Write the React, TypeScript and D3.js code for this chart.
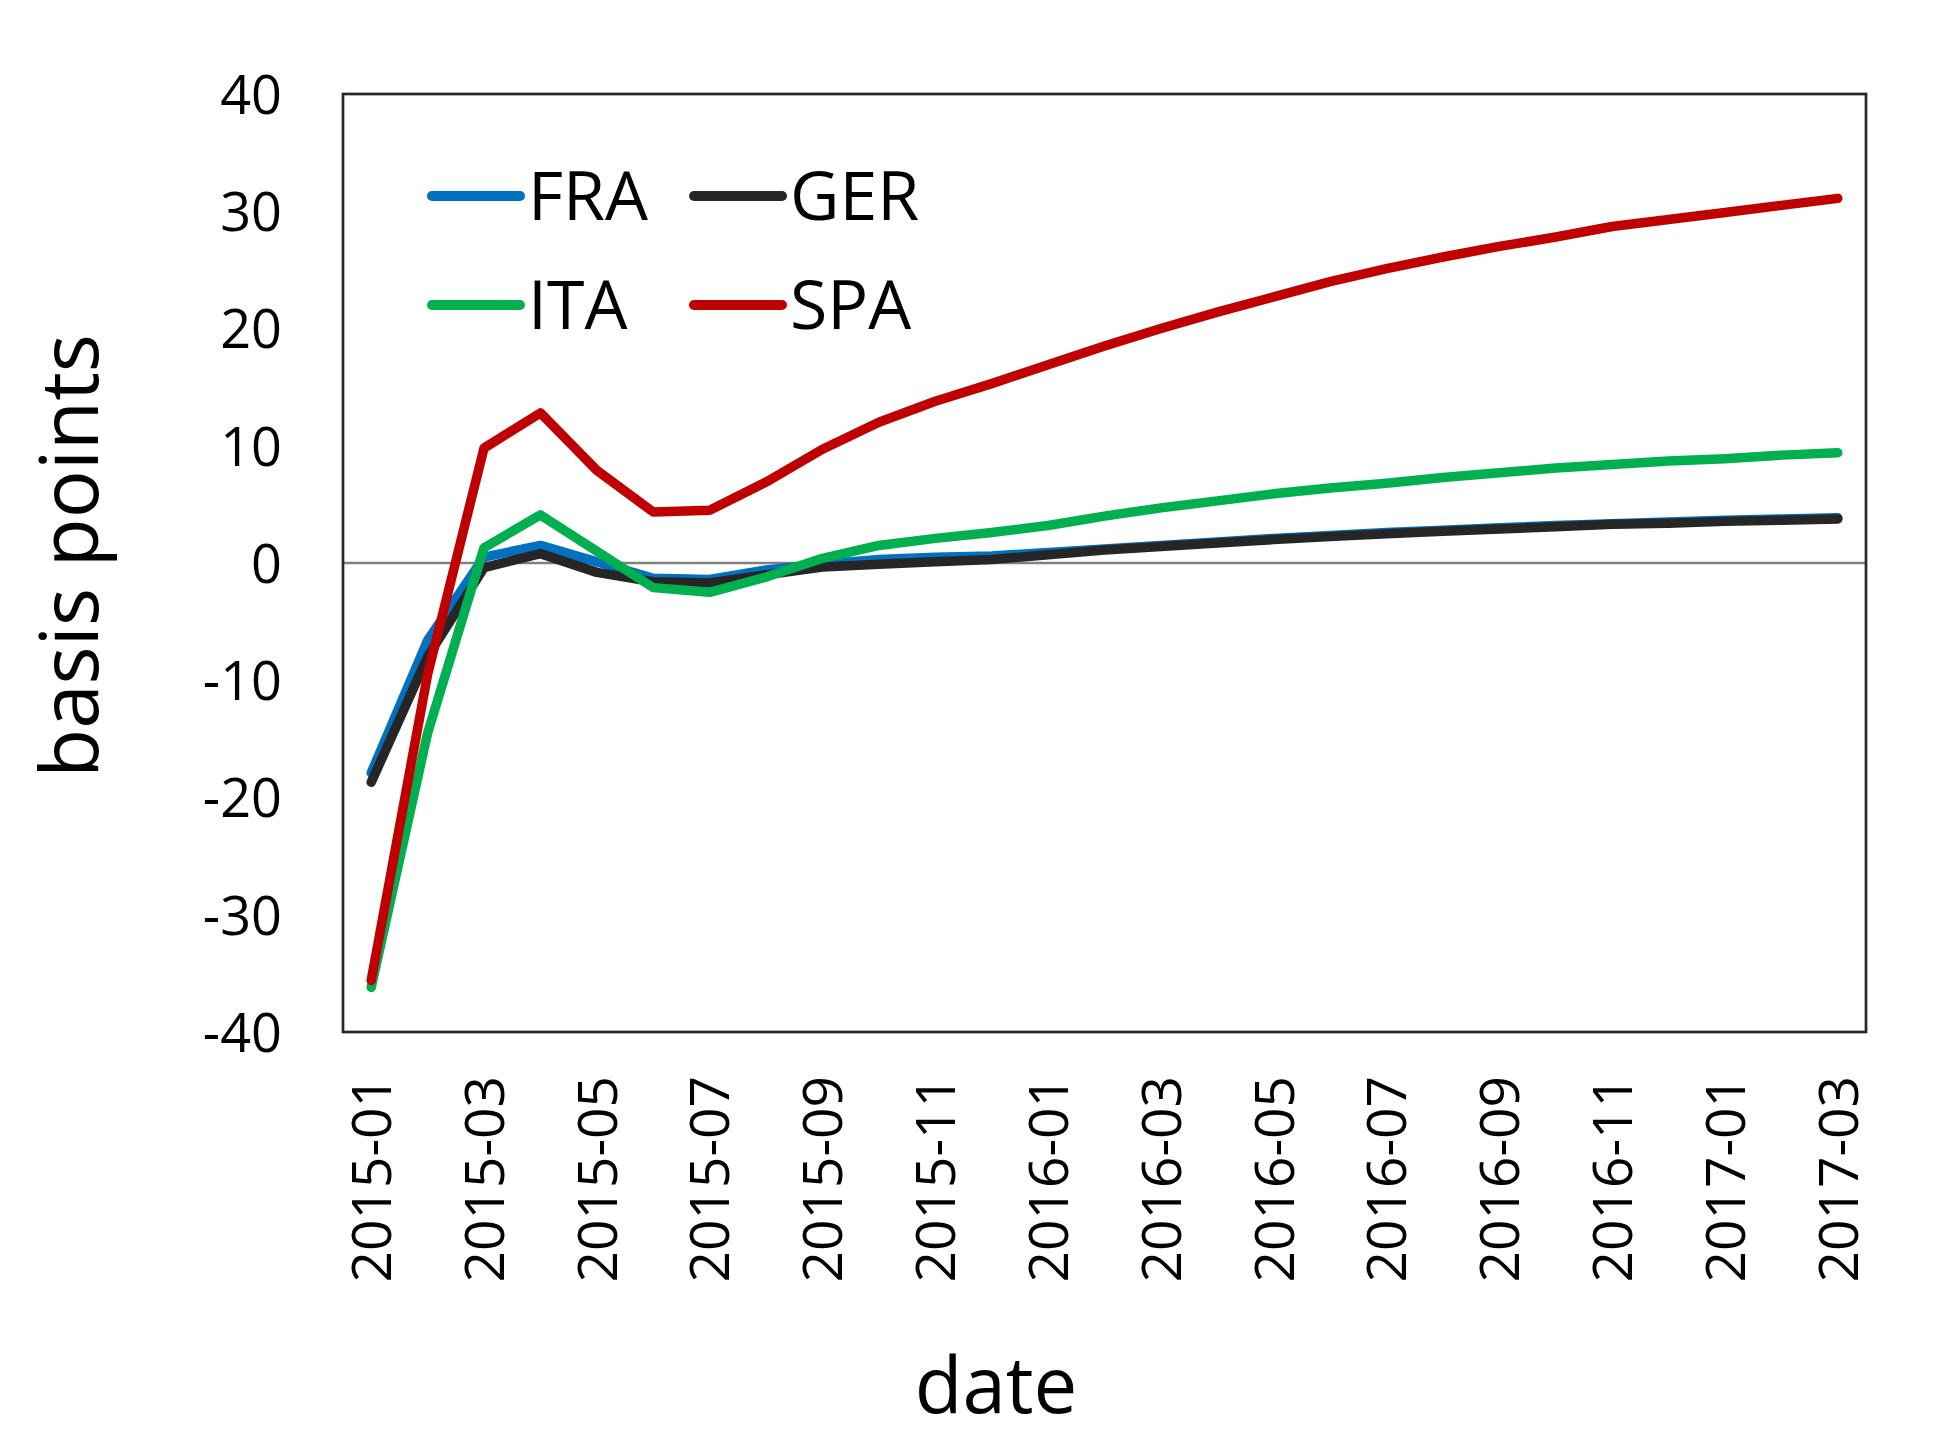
import React, { useEffect, useRef } from 'react';
import * as d3 from 'd3';

const months = [
  '2015-01', '2015-02', '2015-03', '2015-04', '2015-05', '2015-06', '2015-07', '2015-08', '2015-09',
  '2015-10', '2015-11', '2015-12', '2016-01', '2016-02', '2016-03', '2016-04', '2016-05', '2016-06',
  '2016-07', '2016-08', '2016-09', '2016-10', '2016-11', '2016-12', '2017-01', '2017-02', '2017-03',
];

const tickMonths = [
  '2015-01', '2015-03', '2015-05', '2015-07', '2015-09', '2015-11', '2016-01',
  '2016-03', '2016-05', '2016-07', '2016-09', '2016-11', '2017-01', '2017-03',
];

const yTicks = [-40, -30, -20, -10, 0, 10, 20, 30, 40];

const fra = [-17.9, -6.6, 0.5, 1.5, 0.1, -1.3, -1.4, -0.6, -0.1, 0.3, 0.5, 0.6, 0.9, 1.2, 1.5, 1.8, 2.1, 2.35, 2.6, 2.8, 3.0, 3.2, 3.35, 3.5, 3.65, 3.75, 3.85];
const ger = [-18.7, -8.0, -0.4, 0.8, -0.8, -1.6, -1.7, -1.0, -0.35, -0.1, 0.1, 0.3, 0.7, 1.1, 1.4, 1.7, 2.0, 2.25, 2.5, 2.7, 2.9, 3.1, 3.3, 3.4, 3.55, 3.65, 3.75];
const ita = [-36.2, -14.5, 1.3, 4.1, 1.0, -2.1, -2.5, -1.2, 0.4, 1.5, 2.1, 2.6, 3.2, 4.0, 4.7, 5.3, 5.9, 6.4, 6.8, 7.3, 7.7, 8.1, 8.4, 8.7, 8.9, 9.2, 9.4];
const spa = [-35.6, -9.5, 9.8, 12.8, 7.9, 4.35, 4.5, 6.9, 9.7, 12.0, 13.8, 15.3, 16.9, 18.5, 20.0, 21.4, 22.7, 24.0, 25.1, 26.1, 27.0, 27.8, 28.7, 29.3, 29.9, 30.5, 31.1];

const series = [
  { name: 'FRA', values: fra, color: '#0070C0' },
  { name: 'GER', values: ger, color: '#262626' },
  { name: 'ITA', values: ita, color: '#00B050' },
  { name: 'SPA', values: spa, color: '#C00000' },
];

const FONT = '"Open Sans", sans-serif';

const App: React.FC = () => {
  const ref = useRef<SVGSVGElement>(null);

  useEffect(() => {
    if (!ref.current) return;
    const svg = d3.select(ref.current);
    svg.selectAll('*').remove();

    const width = 1946;
    const height = 1452;
    const plot = { left: 343, top: 94, right: 1866, bottom: 1032 };

    svg.attr('width', width).attr('height', height);

    const x = d3.scalePoint<string>()
      .domain(months)
      .range([plot.left, plot.right])
      .padding(0.5);

    const y = d3.scaleLinear()
      .domain([-40, 40])
      .range([plot.bottom, plot.top]);

    // y tick labels (plain hyphen for negatives, like the original)
    const yAxis = svg.append('g')
      .attr('transform', `translate(${plot.left},0)`)
      .call(d3.axisLeft(y).tickValues(yTicks).tickSize(0).tickPadding(61).tickFormat(d => String(d)));
    yAxis.select('.domain').remove();
    yAxis.selectAll('text')
      .attr('font-family', FONT)
      .attr('font-size', 54)
      .attr('fill', '#000')
      .attr('dy', '0.36em');

    // x tick labels, rotated
    svg.append('g')
      .selectAll('text')
      .data(tickMonths)
      .join('text')
      .attr('transform', d => `translate(${x(d)},${plot.bottom + 44}) rotate(-90)`)
      .attr('text-anchor', 'end')
      .attr('dy', '0.36em')
      .attr('font-family', FONT)
      .attr('font-size', 55)
      .attr('fill', '#000')
      .text(d => d);

    // zero line
    svg.append('line')
      .attr('x1', plot.left)
      .attr('x2', plot.right)
      .attr('y1', y(0))
      .attr('y2', y(0))
      .attr('stroke', '#808080')
      .attr('stroke-width', 2.5);

    const line = d3.line<number>()
      .x((_, i) => x(months[i]) as number)
      .y(d => y(d));

    svg.append('g')
      .selectAll('path')
      .data(series)
      .join('path')
      .attr('d', d => line(d.values))
      .attr('fill', 'none')
      .attr('stroke', d => d.color)
      .attr('stroke-width', 9.5)
      .attr('stroke-linejoin', 'round')
      .attr('stroke-linecap', 'round');

    // frame
    svg.append('rect')
      .attr('x', plot.left)
      .attr('y', plot.top)
      .attr('width', plot.right - plot.left)
      .attr('height', plot.bottom - plot.top)
      .attr('fill', 'none')
      .attr('stroke', '#262626')
      .attr('stroke-width', 2.7);

    // legend, 2 columns
    const legend = svg.append('g');
    const colX = [432, 694];
    const rowY = [196, 305];
    series.forEach((s, i) => {
      const lx = colX[i % 2];
      const ly = rowY[Math.floor(i / 2)];
      legend.append('line')
        .attr('x1', lx).attr('x2', lx + 88)
        .attr('y1', ly).attr('y2', ly)
        .attr('stroke', s.color)
        .attr('stroke-width', 10)
        .attr('stroke-linecap', 'round');
      legend.append('text')
        .attr('x', lx + 96)
        .attr('y', ly)
        .attr('dy', '0.36em')
        .attr('font-family', FONT)
        .attr('font-size', 68)
        .attr('fill', '#000')
        .text(s.name);
    });

    // axis titles
    svg.append('text')
      .attr('transform', `translate(98,${(plot.top + plot.bottom) / 2 - 7}) rotate(-90)`)
      .attr('text-anchor', 'middle')
      .attr('font-family', FONT)
      .attr('font-size', 80)
      .attr('fill', '#000')
      .text('basis points');

    svg.append('text')
      .attr('x', 996)
      .attr('y', 1413)
      .attr('text-anchor', 'middle')
      .attr('font-family', FONT)
      .attr('font-size', 78)
      .attr('fill', '#000')
      .text('date');
  }, []);

  return (
    <svg
      ref={ref}
      style={{ position: 'absolute', left: 0, top: 0, background: '#fff' }}
    />
  );
};

export default App;
